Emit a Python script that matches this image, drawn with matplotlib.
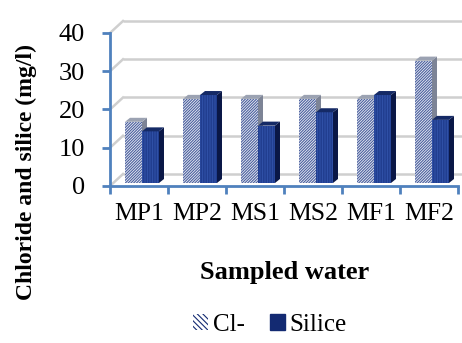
import matplotlib
matplotlib.use("Agg")
import matplotlib.pyplot as plt
from matplotlib.patches import Polygon, Patch
import numpy as np

categories = ["MP1", "MP2", "MS1", "MS2", "MF1", "MF2"]
cl_values = [16, 22, 22, 22, 22, 32]
silice_values = [13.5, 23, 15, 18.5, 23, 16.5]
yticks = [0, 10, 20, 30, 40]

plt.rcParams['font.family'] = ['Liberation Serif', 'DejaVu Serif']
plt.rcParams['hatch.linewidth'] = 0.8

W, H = 462, 343
fig = plt.figure(figsize=(W / 100, H / 100), dpi=100)
ax_l, ax_r, ax_t, ax_b = 110, 458, 33, 186
ax = fig.add_axes([ax_l / W, 1 - ax_b / H, (ax_r - ax_l) / W, (ax_b - ax_t) / H])
ax.set_xlim(-0.5, len(categories) - 0.5)
ax.set_ylim(0, 40)

dx = len(categories) / (ax_r - ax_l)   # data units per pixel
dy = 40 / (ax_b - ax_t)

axis_col = '#4f81bd'
grid_col = '#cfcfcf'

# back wall gridlines
wx, wy = 13 * dx, 12 * dy
for v in yticks:
    ax.plot([-0.5 + wx, len(categories) - 0.5 + wx + 1], [v + wy, v + wy],
            color=grid_col, lw=1.8, clip_on=False, zorder=1, solid_capstyle='butt')
    ax.plot([-0.5, -0.5 + wx], [v, v + wy], color=grid_col, lw=1.8,
            clip_on=False, zorder=1)

bw = 0.293
bx, by = 3 * dx, 3 * dy     # bars set back slightly
sx, sy = 5 * dx, 4 * dy     # bar depth

styles = {
    'cl': dict(face='#eef0f6', hatch='/' * 12, hcol='#4a5f9e',
               side='#7d8496', top='#9ba2b2'),
    'si': dict(face='#163080', hatch='|' * 10, hcol='#2f50a6',
               side='#0a1746', top='#152a66'),
}

z = 3
x = np.arange(len(categories))
for i in range(len(categories)):
    for key, vals, off in (('cl', cl_values, -bw / 2), ('si', silice_values, bw / 2)):
        st = styles[key]
        xc = x[i] + off + bx
        v = vals[i]
        ax.bar(xc, v, width=bw, bottom=by, color=st['face'], edgecolor='none',
               zorder=z)
        ax.bar(xc, v, width=bw, bottom=by, fill=False, hatch=st['hatch'],
               edgecolor=st['hcol'], linewidth=0, zorder=z + 0.1)
        xl, xr = xc - bw / 2, xc + bw / 2
        b, t = by, by + v
        ax.add_patch(Polygon([(xr, b), (xr + sx, b + sy), (xr + sx, t + sy), (xr, t)],
                             closed=True, facecolor=st['side'], edgecolor='none',
                             zorder=z + 0.2, clip_on=False))
        ax.add_patch(Polygon([(xl, t), (xl + sx, t + sy), (xr + sx, t + sy), (xr, t)],
                             closed=True, facecolor=st['top'], edgecolor='none',
                             zorder=z + 0.2, clip_on=False))
        z += 1

# axes styling
for s in ['top', 'right']:
    ax.spines[s].set_visible(False)
for s in ['left', 'bottom']:
    ax.spines[s].set_color(axis_col)
    ax.spines[s].set_linewidth(2)
    ax.spines[s].set_zorder(100)
ax.spines['bottom'].set_bounds(-0.5, len(categories) - 0.5)

ax.set_yticks(yticks)
ax.set_yticklabels([str(v) for v in yticks], fontsize=19)
ax.tick_params(axis='y', direction='out', length=6, width=2, color=axis_col, pad=12)
ax.set_xticks(x)
ax.set_xticklabels(categories, fontsize=18.5)
ax.tick_params(axis='x', length=0, pad=12)
ax.set_xticks(np.arange(-0.5, len(categories)), minor=True)
ax.tick_params(axis='x', which='minor', direction='out', length=6, width=2, color=axis_col)

fig.text(26 / W, 1 - 172 / H, "Chloride and silice (mg/l)", rotation=90,
         ha='center', va='center', fontsize=17, fontweight='bold')
fig.text(285 / W, 1 - 272 / H, "Sampled water", ha='center', va='center',
         fontsize=19, fontweight='bold')

handles = [Patch(facecolor='#ffffff', hatch='\\' * 6, edgecolor='#132a72', linewidth=0, label='Cl-'),
           Patch(facecolor='#132a72', edgecolor='#132a72', label='Silice')]
fig.legend(handles=handles, loc='center', bbox_to_anchor=(270 / W, 1 - 325 / H),
           ncol=2, frameon=False, fontsize=18, handlelength=0.6, handleheight=0.6,
           handletextpad=0.2, columnspacing=1.0)

fig.savefig("out.png", dpi=100)
